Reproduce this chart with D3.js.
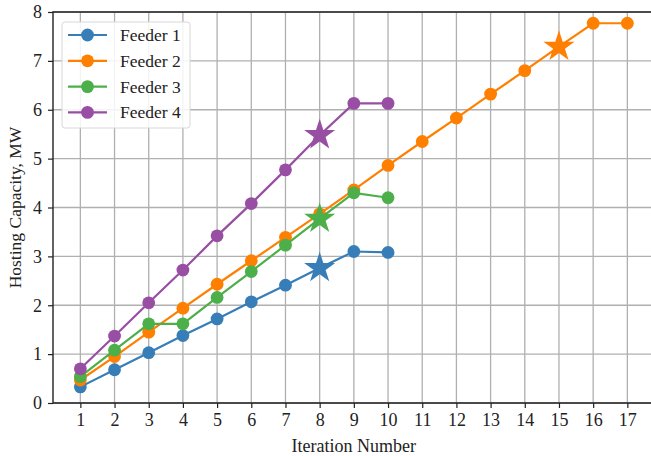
<!DOCTYPE html>
<html>
<head>
<meta charset="utf-8">
<script src="https://cdn.jsdelivr.net/npm/d3@7"></script>
<style>
  body { margin: 0; background: #fff; }
  text { font-family: "Liberation Serif", "DejaVu Serif", serif; fill: #222; }
</style>
</head>
<body>
<svg id="chart" width="651" height="456"></svg>
<script>
'use strict';

// values
var iterations = d3.range(1, 18);
var xTicks = d3.range(1, 18);
var yTicks = [0, 1, 2, 3, 4, 5, 6, 7, 8];
var seriesNames = ['Feeder 1', 'Feeder 2', 'Feeder 3', 'Feeder 4'];
var seriesColors = ['#377eb8', '#ff7f00', '#4daf4a', '#984ea3'];

var feeder1 = [0.33, 0.68, 1.03, 1.38, 1.72, 2.07, 2.41, 2.76, 3.10, 3.08];
var feeder2 = [0.47, 0.95, 1.45, 1.94, 2.43, 2.91, 3.39, 3.87, 4.36, 4.86,
               5.35, 5.83, 6.32, 6.80, 7.29, 7.77, 7.77];
var feeder3 = [0.54, 1.08, 1.62, 1.62, 2.16, 2.69, 3.23, 3.77, 4.30, 4.20];
var feeder4 = [0.70, 1.37, 2.05, 2.72, 3.42, 4.08, 4.77, 5.48, 6.13, 6.13];

// iteration at which each feeder gets the star marker
var starAt = [8, 15, 8, 8];

var series = [feeder1, feeder2, feeder3, feeder4].map(function(vals, i) {
  return {
    name: seriesNames[i],
    color: seriesColors[i],
    star: starAt[i],
    points: vals.map(function(v, j) { return {x: iterations[j], y: v}; })
  };
});

var svg = d3.select('#chart');
var plotLeft = 53, plotRight = 654.7, plotTop = 12, plotBottom = 403;

var x = d3.scaleLinear().domain([0.2, 17.8]).range([plotLeft, plotRight]);
var y = d3.scaleLinear().domain([0, 8]).range([plotBottom, plotTop]);

// grid
var grid = svg.append('g').attr('class', 'grid')
    .attr('stroke', '#b0b0b0').attr('stroke-width', 1.3);
grid.selectAll('.vx').data(xTicks).enter().append('line')
    .attr('x1', function(d) { return x(d); }).attr('x2', function(d) { return x(d); })
    .attr('y1', plotTop).attr('y2', plotBottom);
grid.selectAll('.hy').data(yTicks).enter().append('line')
    .attr('y1', function(d) { return y(d); }).attr('y2', function(d) { return y(d); })
    .attr('x1', plotLeft).attr('x2', plotRight);

// axes
var xAxis = d3.axisBottom(x).tickValues(xTicks).tickSize(5).tickPadding(5)
    .tickFormat(d3.format('d'));
var yAxis = d3.axisLeft(y).tickValues(yTicks).tickSize(5).tickPadding(6)
    .tickFormat(d3.format('d'));

function styleAxis(g) {
  g.select('.domain').remove();
  g.selectAll('line').attr('stroke', '#222').attr('stroke-width', 1.2);
  g.selectAll('text').attr('font-size', 18)
      .attr('font-family', '"Liberation Serif", serif').attr('fill', '#222');
}

svg.append('g').attr('transform', 'translate(0,' + plotBottom + ')')
    .call(xAxis).call(styleAxis);
svg.append('g').attr('transform', 'translate(' + plotLeft + ',0)')
    .call(yAxis).call(styleAxis);

// spines
svg.append('path')
    .attr('d', 'M' + plotRight + ',' + plotTop + 'H' + plotLeft + 'V' + plotBottom + 'H' + plotRight)
    .attr('fill', 'none').attr('stroke', '#222').attr('stroke-width', 1.4);

// lines and markers
var line = d3.line()
    .x(function(d) { return x(d.x); })
    .y(function(d) { return y(d.y); });

var starSym = d3.symbol().type(d3.symbolStar).size(300);

var groups = svg.selectAll('.series').data(series).enter()
  .append('g').attr('class', 'series');

groups.append('path')
    .attr('d', function(d) { return line(d.points); })
    .attr('fill', 'none')
    .attr('stroke', function(d) { return d.color; })
    .attr('stroke-width', 2.2);

groups.each(function(s) {
  var g = d3.select(this);
  g.selectAll('circle')
      .data(s.points.filter(function(p) { return p.x !== s.star; }))
    .enter().append('circle')
      .attr('cx', function(p) { return x(p.x); })
      .attr('cy', function(p) { return y(p.y); })
      .attr('r', 6.4)
      .attr('fill', s.color);
  g.selectAll('.star')
      .data(s.points.filter(function(p) { return p.x === s.star; }))
    .enter().append('path')
      .attr('class', 'star')
      .attr('d', starSym)
      .attr('transform', function(p) {
        return 'translate(' + x(p.x) + ',' + y(p.y) + ')';
      })
      .attr('fill', s.color);
});

// axis titles
svg.append('text')
    .attr('x', (plotLeft + plotRight) / 2).attr('y', 452)
    .attr('text-anchor', 'middle').attr('font-size', 18)
    .text('Iteration Number');
svg.append('text')
    .attr('transform', 'translate(21,' + (plotTop + plotBottom) / 2 + ') rotate(-90)')
    .attr('text-anchor', 'middle').attr('font-size', 17.5)
    .text('Hosting Capacity, MW');

// legend
var legend = svg.append('g').attr('transform', 'translate(62,22)');
legend.append('rect')
    .attr('width', 128).attr('height', 106).attr('rx', 3)
    .attr('fill', '#fff').attr('fill-opacity', 0.85)
    .attr('stroke', '#d8d8d8').attr('stroke-width', 1);

var items = legend.selectAll('.item').data(series).enter()
  .append('g').attr('class', 'item')
    .attr('transform', function(d, i) { return 'translate(0,' + (13 + i * 25.8) + ')'; });
items.append('line')
    .attr('x1', 6).attr('x2', 45)
    .attr('stroke', function(d) { return d.color; }).attr('stroke-width', 2.2);
items.append('circle')
    .attr('cx', 25.5).attr('r', 6.4)
    .attr('fill', function(d) { return d.color; });
items.append('text')
    .attr('x', 58).attr('y', 6).attr('font-size', 17.5)
    .text(function(d) { return d.name; });
</script>
</body>
</html>
